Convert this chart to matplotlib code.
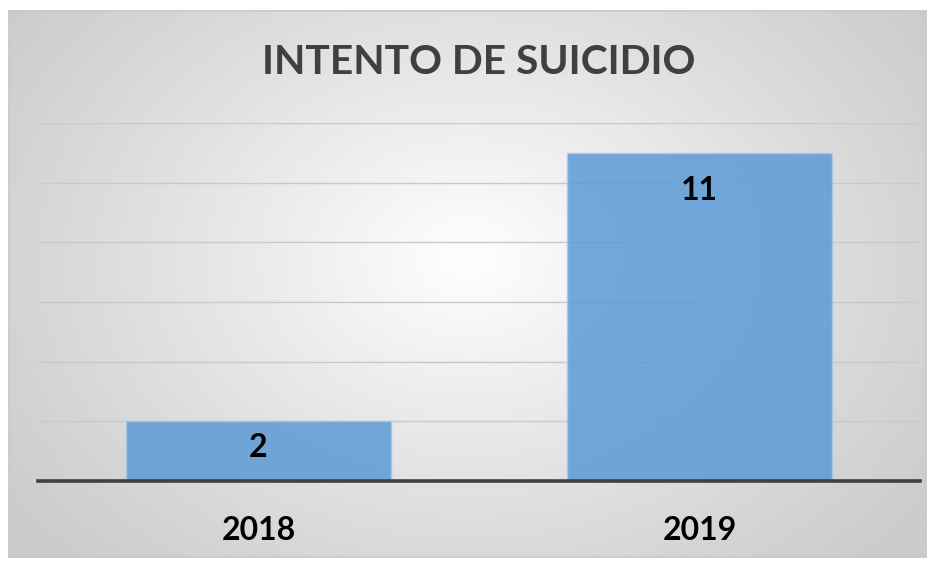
import numpy as np
import matplotlib
matplotlib.use("Agg")
import matplotlib.pyplot as plt

categories = ["2018", "2019"]
values = [2, 11]
title = "INTENTO DE SUICIDIO"
label_offsets_px = [-26, -38]

W, H = 936, 562
fig = plt.figure(figsize=(W / 100, H / 100), dpi=100)
fig.patch.set_facecolor("white")

# chart area background with radial gradient
bx0, by0, bx1, by1 = 9, 11, 926, 557
bg = fig.add_axes([bx0 / W, 1 - by1 / H, (bx1 - bx0) / W, (by1 - by0) / H])
ny, nx = 300, 500
yy, xx = np.mgrid[0:ny, 0:nx]
cx, cy = 0.50 * nx, 0.45 * ny
d = np.sqrt(((xx - cx) / (nx * 0.62)) ** 2 + ((yy - cy) / (ny * 0.78)) ** 2)
d = np.clip(d, 0, 1)
lo, hi = 1.0, 0.80
v = hi + (lo - hi) * (1 - d) ** 1.1
img = np.dstack([v, v, v])
bg.imshow(img, aspect="auto", extent=[0, 1, 0, 1], interpolation="bilinear")
bg.set_xlim(0, 1)
bg.set_ylim(0, 1)
bg.set_xticks([])
bg.set_yticks([])
for s in bg.spines.values():
    s.set_color("#c6c6c6")
    s.set_linewidth(1.2)

# plot area
px0, px1, py_top, py_bot = 38, 920, 123, 481
ax = fig.add_axes([px0 / W, 1 - py_bot / H, (px1 - px0) / W, (py_bot - py_top) / H])
ax.set_facecolor("none")
x = np.arange(len(categories))
ax.bar(x, values, width=0.6, color="#5b9bd5", alpha=0.85,
       edgecolor="#a9c8ea", linewidth=1.0, zorder=3)
ax.set_xlim(-0.5, len(categories) - 0.5)
ax.set_ylim(0, 12)
ax.set_yticks(np.arange(0, 13, 2))
ax.yaxis.grid(True, color="#c9c9c9", linewidth=1.0, zorder=0)
ax.set_axisbelow(True)
ax.tick_params(axis="y", length=0, labelleft=False)
ax.tick_params(axis="x", length=0, pad=25)
ax.set_xticks(x)
ax.set_xticklabels(categories, fontfamily="Lato", fontweight="bold",
                   fontsize=23, color="black")
for side in ["left", "right", "top"]:
    ax.spines[side].set_visible(False)
ax.spines["bottom"].set_color("#404040")
ax.spines["bottom"].set_linewidth(2.6)
ax.spines["bottom"].set_zorder(5)

for xi, val, off in zip(x, values, label_offsets_px):
    ax.annotate(str(val), (xi, val), xytext=(0, off * 72 / 100),
                textcoords="offset points", ha="center", va="center",
                fontfamily="Lato", fontweight="bold", fontsize=23,
                color="black", zorder=6)

fig.text(479 / W, 1 - 63 / H, title, ha="center", va="center",
         fontfamily="Lato", fontweight="bold", fontsize=29.3, color="#404040")

fig.savefig("out.png", dpi=100)
